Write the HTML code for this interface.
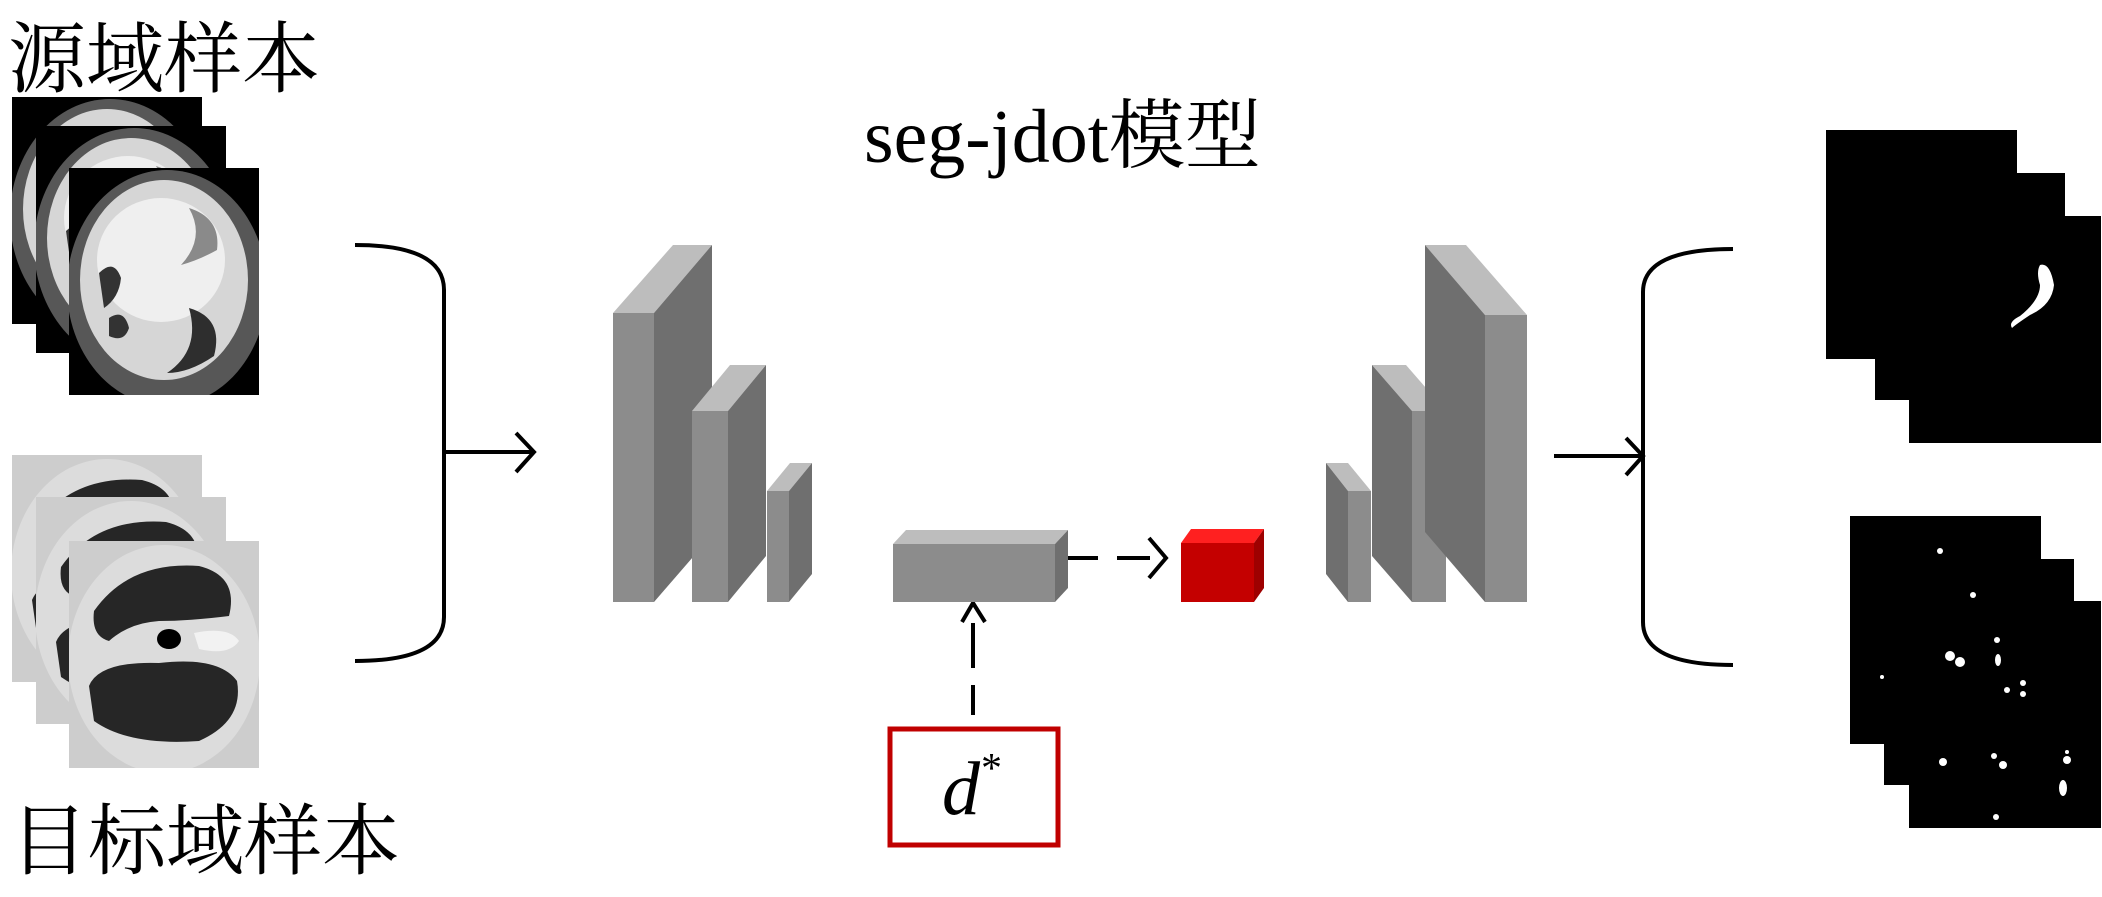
<!DOCTYPE html>
<html><head><meta charset="utf-8"><style>
html,body{margin:0;padding:0;background:#fff;}
svg{display:block;}
</style></head><body>
<svg width="2102" height="897" viewBox="0 0 2102 897" xmlns="http://www.w3.org/2000/svg">
<defs>
<clipPath id="cp"><rect x="0" y="0" width="190" height="227"/></clipPath>
<g id="src" clip-path="url(#cp)">
  <rect x="0" y="0" width="190" height="227" fill="#000"/>
  <ellipse cx="98" cy="120" rx="100" ry="118" fill="#575757"/>
  <ellipse cx="95" cy="112" rx="84" ry="100" fill="#d6d6d6"/>
  <ellipse cx="92" cy="92" rx="64" ry="62" fill="#efefef"/>
  <path d="M30 105 Q45 90 52 110 Q50 130 35 140 Z" fill="#333"/>
  <path d="M40 150 Q55 140 60 160 Q55 175 40 168 Z" fill="#333"/>
  <path d="M120 140 Q155 150 145 188 Q120 205 98 205 Q132 182 120 140 Z" fill="#2e2e2e"/>
  <path d="M120 40 Q152 50 148 82 Q130 92 112 97 Q137 70 120 40 Z" fill="#8a8a8a"/>
</g>
<g id="tgt" clip-path="url(#cp)">
  <rect x="0" y="0" width="190" height="227" fill="#cdcdcd"/>
  <ellipse cx="95" cy="118" rx="96" ry="114" fill="#dcdcdc"/>
  <path d="M25 70 Q60 20 130 25 Q170 35 160 75 Q120 80 90 80 Q60 82 40 100 Q22 95 25 70 Z" fill="#262626"/>
  <path d="M20 145 Q30 120 90 122 Q150 115 168 140 Q175 180 130 200 Q60 205 25 180 Z" fill="#262626"/>
  <ellipse cx="100" cy="98" rx="12" ry="10" fill="#000"/>
  <path d="M125 92 Q160 85 170 100 Q160 115 130 108 Z" fill="#f2f2f2"/>
</g>
</defs>

<text x="8" y="86" font-family="Liberation Serif, Noto Serif CJK SC, serif" font-size="78" fill="#000">源域样本</text>
<text x="10" y="868" font-family="Liberation Serif, Noto Serif CJK SC, serif" font-size="78" fill="#000">目标域样本</text>
<text x="864" y="162" font-family="Liberation Serif, Noto Serif CJK SC, serif" font-size="76" fill="#000">seg-jdot模型</text>

<use href="#src" x="12" y="97"/>
<use href="#src" x="36" y="126"/>
<use href="#src" x="69" y="168"/>
<use href="#tgt" x="12" y="455"/>
<use href="#tgt" x="36" y="497"/>
<use href="#tgt" x="69" y="541"/>

<g fill="none" stroke="#000" stroke-width="4">
  <path d="M355 245 Q444 245 444 290 L444 617 Q444 661 355 661"/>
  <path d="M444 452 L534 452 M516 433 L534 452 L516 472"/>
  <path d="M1733 249 Q1643 249 1643 292 L1643 622 Q1643 665 1733 665"/>
  <path d="M1554 456 L1643 456 M1626 438 L1643 456 L1626 475"/>
  <path d="M1063 558 L1098 558 M1117 558 L1150 558"/>
  <path d="M1149 538 L1166 558 L1149 578"/>
  <path d="M973 715 L973 685 M973 668 L973 623"/>
  <path d="M962 622 L973 603 L985 622"/>
</g>

<polygon points="613,313 654,313 712,245 673,245" fill="#bdbdbd"/>
<polygon points="654,313 712,245 712,535 654,602" fill="#6f6f6f"/>
<rect x="613" y="313" width="41" height="289" fill="#8c8c8c"/>

<polygon points="692,411 728,411 766,365 730,365" fill="#bdbdbd"/>
<polygon points="728,411 766,365 766,556 728,602" fill="#6f6f6f"/>
<rect x="692" y="411" width="36" height="191" fill="#8c8c8c"/>

<polygon points="767,491 789,491 812,463 790,463" fill="#bdbdbd"/>
<polygon points="789,491 812,463 812,574 789,602" fill="#6f6f6f"/>
<rect x="767" y="491" width="22" height="111" fill="#8c8c8c"/>

<polygon points="893,544 1055,544 1068,530 906,530" fill="#bdbdbd"/>
<polygon points="1055,544 1068,530 1068,588 1055,602" fill="#6f6f6f"/>
<rect x="893" y="544" width="162" height="58" fill="#8c8c8c"/>

<polygon points="1181,543 1254,543 1264,529 1191,529" fill="#ff2020"/>
<polygon points="1254,543 1264,529 1264,588 1254,602" fill="#9e0000"/>
<rect x="1181" y="543" width="73" height="59" fill="#c40000"/>

<rect x="890" y="729" width="168" height="116" fill="#fff" stroke="#c00000" stroke-width="5"/>
<text x="942" y="814" font-family="Liberation Serif, serif" font-style="italic" font-size="76" fill="#000">d</text>
<text x="981" y="782" font-family="Liberation Serif, serif" font-size="42" fill="#000">*</text>

<polygon points="1326,463 1348,463 1371,491 1348,491" fill="#bdbdbd"/>
<polygon points="1326,463 1348,491 1348,602 1326,574" fill="#6f6f6f"/>
<rect x="1348" y="491" width="23" height="111" fill="#8c8c8c"/>

<polygon points="1372,365 1406,365 1446,411 1412,411" fill="#bdbdbd"/>
<polygon points="1372,365 1412,411 1412,602 1372,556" fill="#6f6f6f"/>
<rect x="1412" y="411" width="34" height="191" fill="#8c8c8c"/>

<polygon points="1425,245 1466,245 1527,315 1485,315" fill="#bdbdbd"/>
<polygon points="1425,245 1485,315 1485,602 1425,532" fill="#6f6f6f"/>
<rect x="1485" y="315" width="42" height="287" fill="#8c8c8c"/>

<rect x="1826" y="130" width="191" height="229" fill="#000"/>
<rect x="1875" y="173" width="190" height="227" fill="#000"/>
<rect x="1909" y="216" width="192" height="227" fill="#000"/>
<path d="M2040 265 Q2050 262 2054 285 Q2052 305 2030 315 Q2015 325 2012 328 Q2008 322 2020 316 Q2040 300 2040 285 Q2036 272 2040 265 Z" fill="#fff"/>

<rect x="1850" y="516" width="191" height="228" fill="#000"/>
<rect x="1884" y="559" width="190" height="226" fill="#000"/>
<rect x="1909" y="601" width="192" height="227" fill="#000"/>
<g fill="#fff">
  <circle cx="1940" cy="551" r="3"/>
  <circle cx="1973" cy="595" r="3"/>
  <circle cx="1950" cy="656" r="5"/><circle cx="1960" cy="662" r="5"/>
  <circle cx="1997" cy="640" r="3"/><ellipse cx="1998" cy="660" rx="3" ry="6"/>
  <circle cx="2023" cy="683" r="3"/><circle cx="2023" cy="694" r="3"/><circle cx="2007" cy="690" r="3"/>
  <circle cx="1882" cy="677" r="2"/>
  <circle cx="1943" cy="762" r="4"/>
  <circle cx="2003" cy="765" r="4"/><circle cx="1994" cy="756" r="3"/>
  <circle cx="2067" cy="760" r="4"/><circle cx="2067" cy="752" r="2"/>
  <ellipse cx="2063" cy="788" rx="4" ry="8"/>
  <circle cx="1996" cy="817" r="3"/>
</g>
</svg>
</body></html>
